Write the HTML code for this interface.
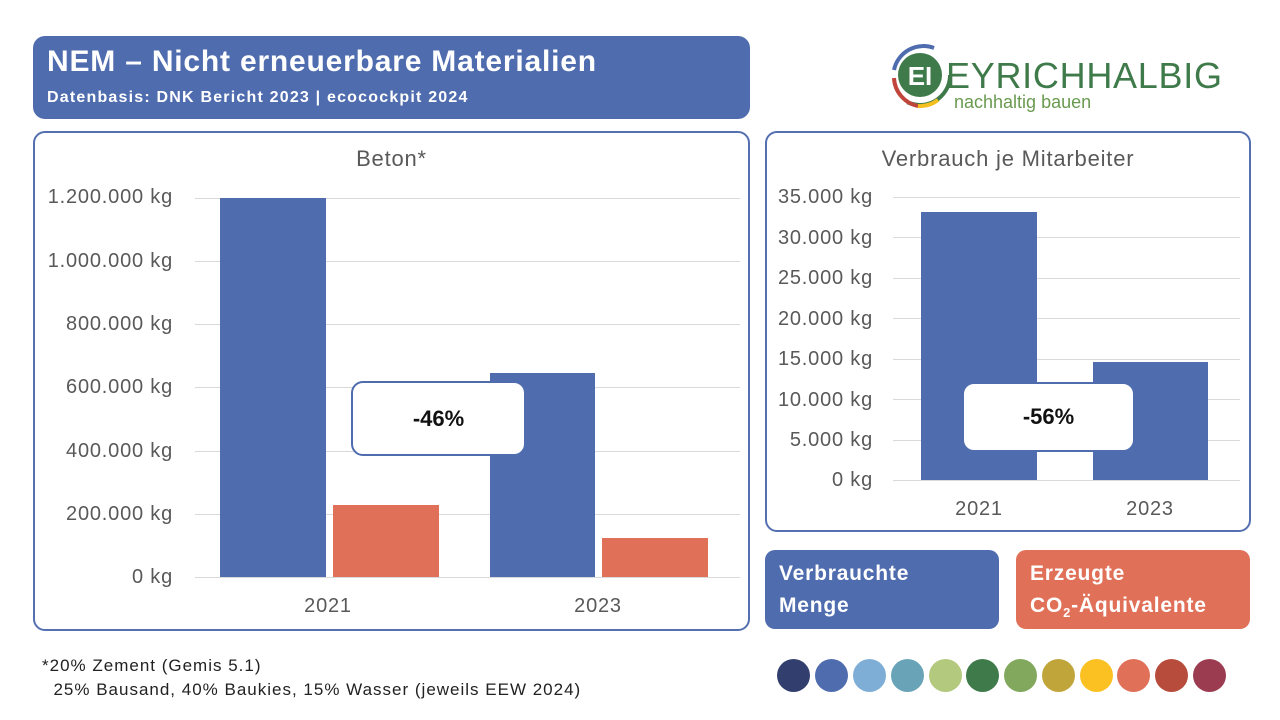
<!DOCTYPE html><html><head><meta charset="utf-8"><style>
*{margin:0;padding:0;box-sizing:border-box}
body{width:1280px;height:720px;background:#fff;position:relative;overflow:hidden;font-family:"Liberation Sans",sans-serif;color:#595959}
.a{position:absolute}
.panel{position:absolute;border:2.5px solid #5470b0;border-radius:12px}
.bl{background:#4f6caf}.or{background:#e07058}
.g{position:absolute;height:1px;background:#d9d9d9}
.yl{position:absolute;text-align:right;font-size:20px;width:170px;line-height:20px;letter-spacing:0.8px}
.xl{position:absolute;font-size:20px;width:80px;text-align:center;letter-spacing:0.8px}
.call{position:absolute;background:#fff;border:2.5px solid #4f6caf;border-radius:12px;font-size:22px;font-weight:bold;color:#111;display:flex;align-items:center;justify-content:center}
.leg{position:absolute;border-radius:10px;color:#fff;font-weight:bold;font-size:21px;line-height:32px;padding:8px 14px;letter-spacing:0.8px}
.dot{position:absolute;width:33px;height:33px;border-radius:50%;top:659px}
</style></head><body>
<div class="a bl" style="left:33px;top:36px;width:717px;height:83px;border-radius:12px"></div>
<div class="a" style="left:47px;top:45px;color:#fff;font-size:30px;font-weight:bold;letter-spacing:0.8px">NEM – Nicht erneuerbare Materialien</div>
<div class="a" style="left:47px;top:89px;color:#fff;font-size:16px;font-weight:bold;letter-spacing:1.2px">Datenbasis: DNK Bericht 2023 | ecocockpit 2024</div>

<svg class="a" style="left:888px;top:40px" width="340" height="80">
<circle cx="32" cy="35" r="30" fill="none" stroke="#3f7a4a" stroke-width="4" stroke-dasharray="60 200"/>
<path d="M46 8 A30 30 0 0 0 6 30" fill="none" stroke="#4f6caf" stroke-width="4"/>
<path d="M6 38 A30 30 0 0 0 30 66" fill="none" stroke="#c0453a" stroke-width="4"/>
<path d="M30 66 A30 30 0 0 0 50 60" fill="none" stroke="#f4c020" stroke-width="4"/>
<circle cx="32" cy="35" r="22" fill="#3f7a4a"/>
<text x="32" y="45" font-size="26" font-weight="bold" fill="#fff" text-anchor="middle" font-family="Liberation Sans">EI</text>
<text x="58" y="48" font-size="36" fill="#3f7a4a" font-family="Liberation Sans" textLength="276">EYRICHHALBIG</text>
<text x="66" y="68" font-size="18" fill="#6a9a50" font-family="Liberation Sans">nachhaltig bauen</text>
</svg>

<div class="panel" style="left:33px;top:131px;width:717px;height:500px"></div>
<div class="a" style="left:33px;top:146px;width:717px;text-align:center;font-size:22px;letter-spacing:0.8px">Beton*</div>
<div class="g" style="left:195px;top:198px;width:545px"></div>
<div class="g" style="left:195px;top:261px;width:545px"></div>
<div class="g" style="left:195px;top:324px;width:545px"></div>
<div class="g" style="left:195px;top:387px;width:545px"></div>
<div class="g" style="left:195px;top:451px;width:545px"></div>
<div class="g" style="left:195px;top:514px;width:545px"></div>
<div class="g" style="left:195px;top:577px;width:545px"></div>
<div class="yl" style="left:3px;top:187px">1.200.000 kg</div>
<div class="yl" style="left:3px;top:251px">1.000.000 kg</div>
<div class="yl" style="left:3px;top:314px">800.000 kg</div>
<div class="yl" style="left:3px;top:377px">600.000 kg</div>
<div class="yl" style="left:3px;top:441px">400.000 kg</div>
<div class="yl" style="left:3px;top:504px">200.000 kg</div>
<div class="yl" style="left:3px;top:567px">0 kg</div>
<div class="a bl" style="left:220px;top:198px;width:106px;height:379px"></div>
<div class="a or" style="left:333px;top:505px;width:106px;height:72px"></div>
<div class="a bl" style="left:490px;top:373px;width:105px;height:204px"></div>
<div class="a or" style="left:602px;top:538px;width:106px;height:39px"></div>
<div class="xl" style="left:288px;top:595px">2021</div>
<div class="xl" style="left:558px;top:595px">2023</div>
<div class="call" style="left:351px;top:381px;width:175px;height:75px">-46%</div>

<div class="panel" style="left:765px;top:131px;width:486px;height:401px"></div>
<div class="a" style="left:765px;top:146px;width:486px;text-align:center;font-size:22px;letter-spacing:0.8px">Verbrauch je Mitarbeiter</div>
<div class="g" style="left:893px;top:197px;width:347px"></div>
<div class="g" style="left:893px;top:237px;width:347px"></div>
<div class="g" style="left:893px;top:278px;width:347px"></div>
<div class="g" style="left:893px;top:318px;width:347px"></div>
<div class="g" style="left:893px;top:359px;width:347px"></div>
<div class="g" style="left:893px;top:399px;width:347px"></div>
<div class="g" style="left:893px;top:440px;width:347px"></div>
<div class="g" style="left:893px;top:480px;width:347px"></div>
<div class="yl" style="left:703px;top:187px">35.000 kg</div>
<div class="yl" style="left:703px;top:228px">30.000 kg</div>
<div class="yl" style="left:703px;top:268px">25.000 kg</div>
<div class="yl" style="left:703px;top:309px">20.000 kg</div>
<div class="yl" style="left:703px;top:349px">15.000 kg</div>
<div class="yl" style="left:703px;top:390px">10.000 kg</div>
<div class="yl" style="left:703px;top:430px">5.000 kg</div>
<div class="yl" style="left:703px;top:470px">0 kg</div>
<div class="a bl" style="left:921px;top:212px;width:116px;height:268px"></div>
<div class="a bl" style="left:1093px;top:362px;width:115px;height:118px"></div>
<div class="xl" style="left:939px;top:498px">2021</div>
<div class="xl" style="left:1110px;top:498px">2023</div>
<div class="call" style="left:962px;top:382px;width:173px;height:70px">-56%</div>

<div class="leg bl" style="left:765px;top:550px;width:234px;height:79px">Verbrauchte<br>Menge</div>
<div class="leg or" style="left:1016px;top:550px;width:234px;height:79px">Erzeugte<br>CO<sub style="font-size:13px;line-height:0">2</sub>-Äquivalente</div>

<div class="a" style="left:42px;top:654px;font-size:17px;color:#222;line-height:24px;letter-spacing:1px">*20% Zement (Gemis 5.1)<br>&nbsp;&nbsp;25% Bausand, 40% Baukies, 15% Wasser (jeweils EEW 2024)</div>

<div class="dot" style="left:777px;background:#323f6e"></div>
<div class="dot" style="left:815px;background:#4f6caf"></div>
<div class="dot" style="left:853px;background:#7eaed6"></div>
<div class="dot" style="left:891px;background:#68a3b7"></div>
<div class="dot" style="left:929px;background:#b3c97e"></div>
<div class="dot" style="left:966px;background:#3f7a4a"></div>
<div class="dot" style="left:1004px;background:#82a85e"></div>
<div class="dot" style="left:1042px;background:#c0a63a"></div>
<div class="dot" style="left:1080px;background:#fbc122"></div>
<div class="dot" style="left:1117px;background:#e07058"></div>
<div class="dot" style="left:1155px;background:#b74b3c"></div>
<div class="dot" style="left:1193px;background:#9c3c50"></div>
</body></html>
